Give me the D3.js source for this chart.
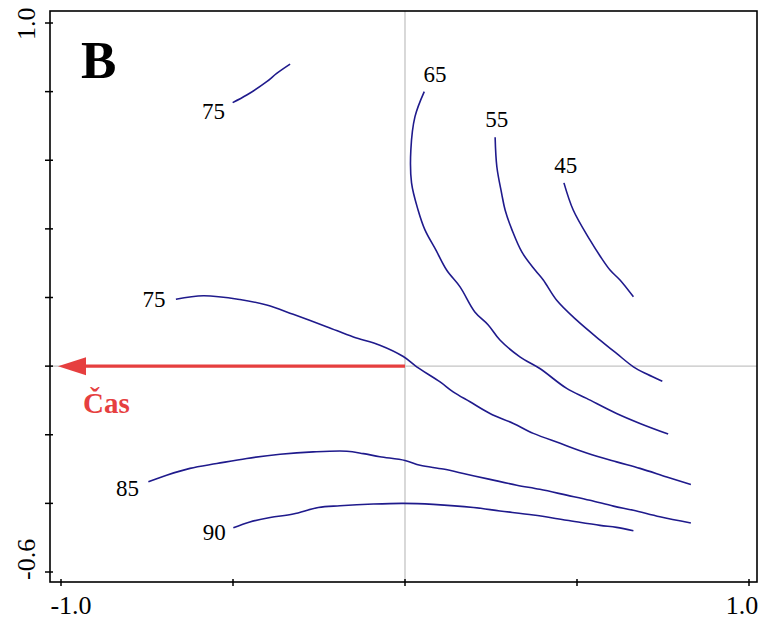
<!DOCTYPE html>
<html>
<head>
<meta charset="utf-8">
<script src="https://cdn.jsdelivr.net/npm/d3@7"></script>
<style>
  body { margin: 0; background: #fff; }
  text { font-family: "Liberation Serif", "Times New Roman", serif; }
</style>
</head>
<body>
<div id="chart-area"></div>
<script>
// contour lines, [x, y] in ordination units
let c75top = [[-0.501,0.768],[-0.460,0.790],[-0.402,0.829],[-0.373,0.853],[-0.334,0.880]];
let c65 = [[0.056,0.800],[0.029,0.727],[0.017,0.630],[0.019,0.534],[0.038,0.455],[0.058,0.397],
	[0.090,0.338],[0.121,0.280],[0.160,0.231],[0.203,0.158],[0.242,0.120],[0.276,0.076],[0.334,0.027],
	[0.392,-0.007],[0.470,-0.065],[0.528,-0.094],[0.615,-0.138],[0.683,-0.167],[0.765,-0.198]];
let c55 = [[0.262,0.667],[0.267,0.581],[0.281,0.503],[0.291,0.455],[0.311,0.397],[0.340,0.332],
	[0.378,0.280],[0.402,0.251],[0.441,0.192],[0.499,0.134],[0.567,0.076],[0.615,0.037],[0.664,-0.002],
	[0.703,-0.023],[0.748,-0.044]];
let c45 = [[0.462,0.534],[0.489,0.455],[0.538,0.367],[0.567,0.321],[0.596,0.280],[0.625,0.251],[0.664,0.202]];
let c75 = [[-0.666,0.195],[-0.586,0.205],[-0.480,0.194],[-0.402,0.178],[-0.325,0.151],[-0.228,0.115],
	[-0.150,0.085],[-0.073,0.061],[-0.005,0.028],[0.034,-0.002],[0.102,-0.046],[0.140,-0.075],[0.189,-0.104],
	[0.247,-0.138],[0.315,-0.167],[0.373,-0.196],[0.451,-0.225],[0.528,-0.253],[0.615,-0.279],[0.683,-0.298],
	[0.761,-0.323],[0.831,-0.345]];
let c85 = [[-0.746,-0.337],[-0.693,-0.318],[-0.625,-0.298],[-0.547,-0.284],[-0.460,-0.269],[-0.363,-0.257],
	[-0.267,-0.250],[-0.169,-0.248],[-0.121,-0.255],[-0.073,-0.264],[0.000,-0.275],[0.044,-0.289],[0.111,-0.300],
	[0.179,-0.315],[0.247,-0.330],[0.325,-0.347],[0.392,-0.359],[0.470,-0.376],[0.538,-0.391],[0.606,-0.408],
	[0.664,-0.420],[0.741,-0.439],[0.831,-0.457]];
let c90 = [[-0.499,-0.471],[-0.451,-0.454],[-0.392,-0.441],[-0.325,-0.431],[-0.252,-0.412],[-0.189,-0.407],
	[-0.092,-0.402],[-0.005,-0.400],[0.082,-0.403],[0.199,-0.412],[0.276,-0.422],[0.373,-0.434],[0.470,-0.449],
	[0.567,-0.464],[0.615,-0.470],[0.664,-0.480]];

let contours = [c75top, c65, c55, c45, c75, c85, c90];

// contour labels: text, x, y, anchor
let labelText = ["75", "65", "55", "45", "75", "85", "90"];
let labelPos = [[-0.523,0.720],[0.087,0.827],[0.267,0.696],[0.467,0.564],[-0.696,0.173],[-0.773,-0.379],[-0.521,-0.507]];
let labelAnchor = ["end", "middle", "middle", "middle", "end", "end", "end"];

// arrow (explanatory variable)
let arrowName = "Čas";
let arrowVec = [-1.0, 0.0];

let xTicks = [-1.0, -0.5, 0, 0.5, 1.0];
let yTicks = [1.0, 0.8, 0.6, 0.4, 0.2, 0, -0.2, -0.4, -0.6];
let xTickLabels = ["-1.0", "1.0"];
let yTickLabels = ["1.0", "-0.6"];

let W = 759, H = 621;
let frame = { left: 50, top: 11, right: 757, bottom: 582 };

let svg = d3.select("#chart-area").append("svg")
	.attr("width", W)
	.attr("height", H);

let x = d3.scaleLinear().domain([-1, 1]).range([61, 749]);
let y = d3.scaleLinear().domain([-0.6, 1]).range([572, 23]);

// zero lines
svg.append("line")
	.attr("x1", x(0)).attr("x2", x(0))
	.attr("y1", frame.top).attr("y2", frame.bottom)
	.attr("stroke", "#c4c4c4").attr("stroke-width", 1.3);
svg.append("line")
	.attr("x1", frame.left).attr("x2", frame.right)
	.attr("y1", y(0)).attr("y2", y(0))
	.attr("stroke", "#c4c4c4").attr("stroke-width", 1.3);

// contours
let line = d3.line()
	.x((d) => x(d[0]))
	.y((d) => y(d[1]))
	.curve(d3.curveCatmullRom);

svg.selectAll("path.contour").data(contours).enter()
	.append("path")
	.attr("class", "contour")
	.attr("d", line)
	.attr("fill", "none")
	.attr("stroke", "#1f1a8c")
	.attr("stroke-width", 1.6);

svg.selectAll("text.clabel").data(labelText).enter()
	.append("text")
	.attr("class", "clabel")
	.attr("x", (d, i) => x(labelPos[i][0]))
	.attr("y", (d, i) => y(labelPos[i][1]))
	.attr("text-anchor", (d, i) => labelAnchor[i])
	.attr("font-size", "23px")
	.attr("fill", "#000")
	.text((d) => d);

// arrow
let red = "#e63f3f";
let tipX = x(arrowVec[0]) - 3, tipY = y(arrowVec[1]);
svg.append("line")
	.attr("x1", x(0)).attr("y1", y(0))
	.attr("x2", tipX + 24).attr("y2", tipY)
	.attr("stroke", red).attr("stroke-width", 3.2);
svg.append("path")
	.attr("d", "M" + tipX + "," + tipY + "L" + (tipX + 28) + "," + (tipY - 9) + "L" + (tipX + 28) + "," + (tipY + 9) + "Z")
	.attr("fill", red);
svg.append("text")
	.attr("x", tipX + 25)
	.attr("y", tipY + 47)
	.attr("font-size", "29px")
	.attr("font-weight", "bold")
	.attr("fill", red)
	.text(arrowName);

// frame
svg.append("rect")
	.attr("x", frame.left).attr("y", frame.top)
	.attr("width", frame.right - frame.left)
	.attr("height", frame.bottom - frame.top)
	.attr("fill", "none")
	.attr("stroke", "#000")
	.attr("stroke-width", 1.6);

// ticks
svg.selectAll("line.xtick").data(xTicks).enter()
	.append("line")
	.attr("x1", (d) => x(d)).attr("x2", (d) => x(d))
	.attr("y1", frame.bottom - 3).attr("y2", frame.bottom + 4)
	.attr("stroke", "#000").attr("stroke-width", 1.5);
svg.selectAll("line.ytick").data(yTicks).enter()
	.append("line")
	.attr("x1", frame.left - 5).attr("x2", frame.left + 3)
	.attr("y1", (d) => y(d)).attr("y2", (d) => y(d))
	.attr("stroke", "#000").attr("stroke-width", 1.5);

// tick labels, only at the ends
svg.append("text")
	.attr("x", x(-1.0) + 10).attr("y", 614)
	.attr("text-anchor", "middle")
	.attr("font-size", "26px")
	.text(xTickLabels[0]);
svg.append("text")
	.attr("x", x(1.0) - 7).attr("y", 614)
	.attr("text-anchor", "middle")
	.attr("font-size", "26px")
	.text(xTickLabels[1]);
svg.append("text")
	.attr("transform", "translate(35," + (y(1.0) + 17) + ") rotate(-90)")
	.attr("text-anchor", "start")
	.attr("font-size", "26px")
	.text(yTickLabels[0]);
svg.append("text")
	.attr("transform", "translate(35," + (y(-0.6) + 8) + ") rotate(-90)")
	.attr("text-anchor", "start")
	.attr("font-size", "26px")
	.text(yTickLabels[1]);

// panel letter
svg.append("text")
	.attr("x", 81).attr("y", 78)
	.attr("font-size", "53px")
	.attr("font-weight", "bold")
	.text("B");
</script>
</body>
</html>
